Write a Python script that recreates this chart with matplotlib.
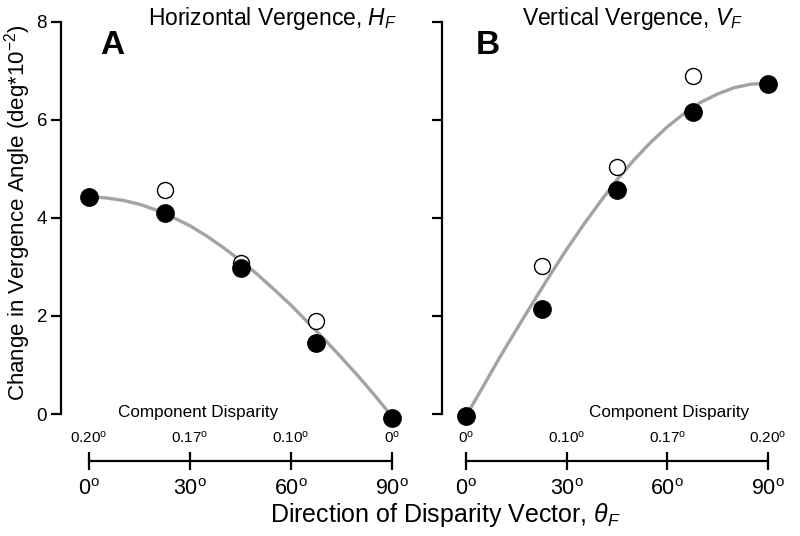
import matplotlib
matplotlib.use("Agg")
import matplotlib.pyplot as plt

plt.rcParams['font.family'] = ['Liberation Sans', 'DejaVu Sans']
plt.rcParams['mathtext.fontset'] = 'custom'
plt.rcParams['mathtext.rm'] = 'Liberation Sans'
plt.rcParams['mathtext.it'] = 'Liberation Sans:italic'
plt.rcParams['mathtext.bf'] = 'Liberation Sans:bold'

# direction of disparity vector (deg)
theta = [0, 22.5, 45, 67.5, 90]
theta_open = [22.5, 45, 67.5]

# panel A: horizontal vergence
h_filled = [4.43, 4.10, 2.98, 1.45, -0.08]
h_open = [4.57, 3.08, 1.90]
# panel B: vertical vergence
v_filled = [-0.04, 2.15, 4.57, 6.17, 6.73]
v_open = [3.02, 5.04, 6.90]

# gray fitted curves, read every 5 deg
fit_theta = [0, 5, 10, 15, 20, 25, 30, 35, 40, 45, 50, 55, 60, 65, 70, 75, 80, 85, 90]
h_fit = [4.43, 4.41, 4.36, 4.28, 4.16, 4.01, 3.84, 3.63, 3.39, 3.13, 2.85,
         2.54, 2.22, 1.87, 1.52, 1.15, 0.77, 0.37, -0.05]
v_fit = [-0.04, 0.55, 1.15, 1.72, 2.28, 2.83, 3.36, 3.86, 4.33, 4.78, 5.18,
         5.54, 5.86, 6.13, 6.36, 6.53, 6.66, 6.73, 6.75]

theta_ticks = [0, 30, 60, 90]
theta_labels = ['0$^{\\rm o}$', '30$^{\\rm o}$', '60$^{\\rm o}$', '90$^{\\rm o}$']
disp_labels_h = ['0.20$^{\\rm o}$', '0.17$^{\\rm o}$', '0.10$^{\\rm o}$', '0$^{\\rm o}$']
disp_labels_v = ['0$^{\\rm o}$', '0.10$^{\\rm o}$', '0.17$^{\\rm o}$', '0.20$^{\\rm o}$']

W, H = 800, 536
fig = plt.figure(figsize=(8, 5.36), dpi=100)


def rect(x0, y0, x1, y1):
    # pixel box (top-left origin) -> figure fraction
    return [x0 / W, 1 - y1 / H, (x1 - x0) / W, (y1 - y0) / H]


def panel(x_spine, x_zero, x_ninety, x_right, filled, opened, fit, disp_labels):
    scale = (x_ninety - x_zero) / 90.0
    ax = fig.add_axes(rect(x_spine, 17, x_right, 440))
    ax.set_xlim((x_spine - x_zero) / scale, (x_right - x_zero) / scale)
    ax.set_ylim(-0.53, 8.1)
    for s in ['top', 'right', 'bottom']:
        ax.spines[s].set_visible(False)
    ax.spines['left'].set_bounds(0, 8)
    ax.spines['left'].set_linewidth(1.6)
    ax.set_yticks([0, 2, 4, 6, 8])
    ax.tick_params(axis='y', length=7, width=1.6, labelsize=13.5, pad=3)
    ax.set_xticks([])
    ax.patch.set_alpha(0)

    ax.plot(fit_theta, fit, color='#a3a3a3', lw=2.4, zorder=2, clip_on=False)
    ax.plot(theta_open, opened, 'o', ms=11.5, mfc='white', mec='black', mew=1.0,
            zorder=3, clip_on=False)
    ax.plot(theta, filled, 'o', ms=12.5, mfc='black', mec='black', zorder=4,
            clip_on=False)

    # separate direction axis below
    axx = fig.add_axes(rect(x_spine, 461, x_right, 461.2))
    axx.set_xlim(ax.get_xlim())
    axx.set_ylim(0, 1)
    axx.patch.set_alpha(0)
    for s in ['top', 'right', 'left']:
        axx.spines[s].set_visible(False)
    axx.spines['bottom'].set_bounds(0, 90)
    axx.spines['bottom'].set_linewidth(1.6)
    axx.set_yticks([])
    axx.set_xticks(theta_ticks)
    axx.set_xticklabels(theta_labels)
    axx.tick_params(axis='x', direction='inout', length=13, width=1.6,
                    labelsize=15.5, pad=6)

    axt = axx.twiny()
    axt.set_xlim(ax.get_xlim())
    for s in ['top', 'right', 'left', 'bottom']:
        axt.spines[s].set_visible(False)
    axt.set_xticks(theta_ticks)
    axt.set_xticklabels(disp_labels)
    axt.tick_params(axis='x', length=0, labelsize=11, pad=11)
    return ax


axA = panel(61, 89, 392, 402, h_filled, h_open, h_fit, disp_labels_h)
axB = panel(442, 466, 768, 782, v_filled, v_open, v_fit, disp_labels_v)
axB.set_yticklabels([])

fig.text(148 / W, 1 - 25 / H, 'Horizontal Vergence, $H_F$', fontsize=16.5, va='baseline')
fig.text(522 / W, 1 - 25 / H, 'Vertical Vergence, $V_F$', fontsize=16.5, va='baseline')
fig.text(100 / W, 1 - 54 / H, 'A', fontsize=24, fontweight='bold', va='baseline')
fig.text(476 / W, 1 - 54 / H, 'B', fontsize=24, fontweight='bold', va='baseline')
fig.text(118 / W, 1 - 417 / H, 'Component Disparity', fontsize=12.3, va='baseline')
fig.text(589 / W, 1 - 417 / H, 'Component Disparity', fontsize=12.3, va='baseline')
fig.text(445 / W, 1 - 522 / H, 'Direction of Disparity Vector, $\\theta_F$',
         fontsize=18, va='baseline', ha='center')
fig.text(18 / W, 1 - 213 / H, 'Change in Vergence Angle (deg*10$^{-2}$)',
         fontsize=16, rotation=90, va='center', ha='center')

fig.savefig('out.png', dpi=100)
